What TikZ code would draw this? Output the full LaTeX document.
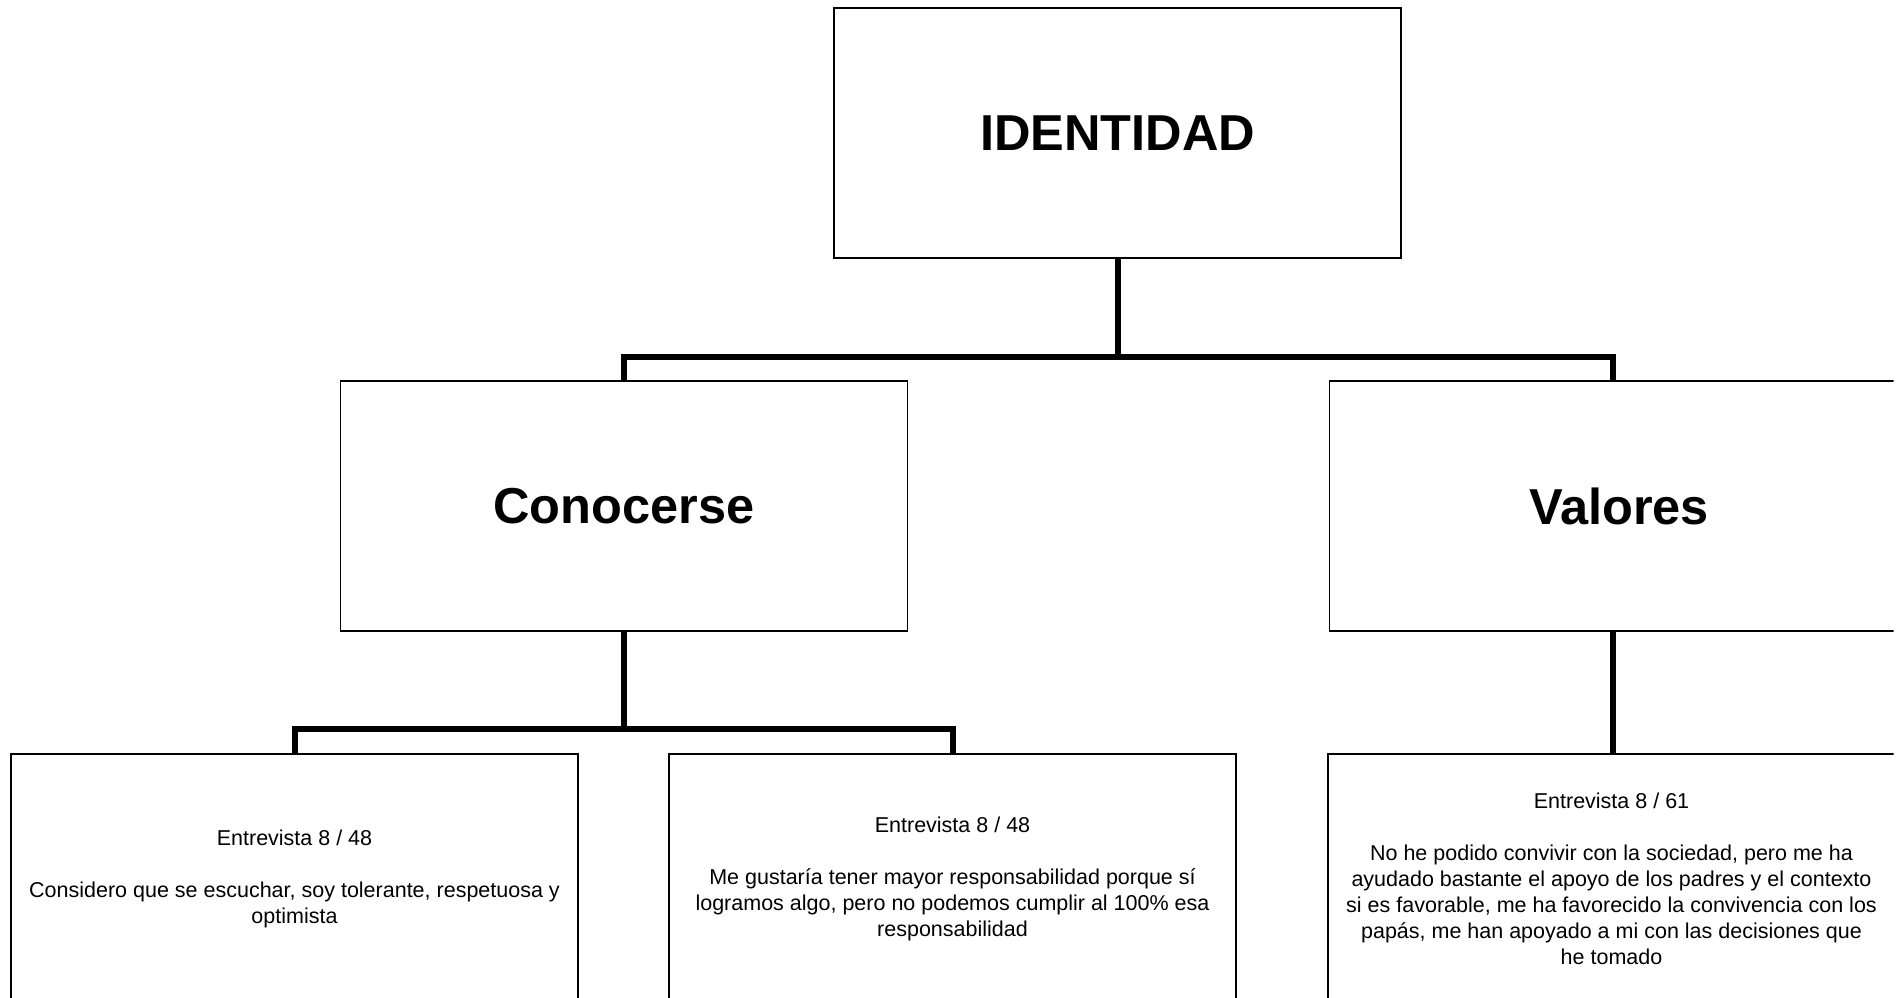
\documentclass[tikz,border=0pt]{standalone}
\usepackage{fontspec}
\setmainfont{Liberation Sans}
\begin{document}
\begin{tikzpicture}[x=1pt,y=-1pt,
  box/.style={draw, line width=1.5pt, minimum width=567pt, minimum height=250pt, inner sep=0pt, align=center},
  head/.style={box, font=\fontsize{50.5}{60}\selectfont\bfseries},
  quote/.style={box, font=\fontsize{21.5}{26}\selectfont},
  conn/.style={line width=6pt}]
\useasboundingbox (0,0) rectangle (1904,998);
\fill[white] (0,0) rectangle (1904,998);
\clip (0,0) rectangle (1893.5,998);
\node[head] (ident) at (1117.5,133) {IDENTIDAD};
\node[head] (con) at (624,506) {Conocerse};
\node[head] (val) at (1613,506) {\hspace*{12pt}Valores};
\node[quote] (e1) at (294.5,879) {Entrevista 8 / 48\\[26pt]Considero que se escuchar, soy tolerante, respetuosa y\\optimista};
\node[quote] (e2) at (952.5,879) {Entrevista 8 / 48\\[26pt]Me gustaría tener mayor responsabilidad porque sí\\logramos algo, pero no podemos cumplir al 100\% esa\\responsabilidad};
\node[quote] (e3) at (1611.5,879) {Entrevista 8 / 61\\[26pt]No he podido convivir con la sociedad, pero me ha\\ayudado bastante el apoyo de los padres y el contexto\\si es favorable, me ha favorecido la convivencia con los\\papás, me han apoyado a mi con las decisiones que\\he tomado};
\coordinate (topbar) at (1117.5,357);
\coordinate (midbar) at (624,729);
\draw[conn] (ident.south) -- (topbar);
\draw[conn] (con.north) |- (topbar) -| (val.north);
\draw[conn] (con.south) -- (midbar);
\draw[conn] (e1.north) |- (midbar) -| (e2.north);
\draw[conn] (val.south) -- (val.south |- e3.north);
\end{tikzpicture}
\end{document}
